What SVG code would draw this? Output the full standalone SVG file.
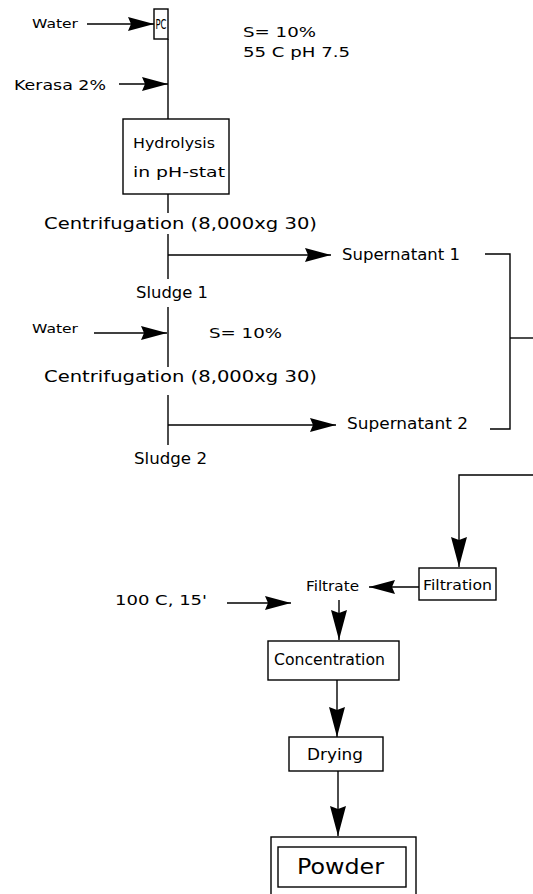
<svg xmlns="http://www.w3.org/2000/svg" width="533" height="894" viewBox="0 0 533 894">
<defs>
<style>
text{font-family:"DejaVu Sans","Liberation Sans",sans-serif;fill:#000;}
.s12{font-size:12px;}
.s14{font-size:14px;}
.s15{font-size:15px;}
.s22{font-size:22px;}
.box{fill:#fff;stroke:#000;stroke-width:1.4;}
.ln{fill:none;stroke:#000;stroke-width:1.4;}
</style>
<marker id="ah" markerUnits="userSpaceOnUse" markerWidth="26" markerHeight="14" refX="26" refY="7" orient="auto">
<path d="M0,0 L26,7 L0,14 L3,7 z" fill="#000"/>
</marker>
<marker id="ahl" markerUnits="userSpaceOnUse" markerWidth="30" markerHeight="16" refX="30" refY="8" orient="auto">
<path d="M0,0 L30,8 L0,16 L3,8 z" fill="#000"/>
</marker>
</defs>
<rect width="533" height="894" fill="#fff"/>
<g id="connectors">
<line class="ln" x1="87" y1="24" x2="154" y2="24" marker-end="url(#ah)"/>
<line class="ln" x1="119" y1="84" x2="168" y2="84" marker-end="url(#ah)"/>
<line class="ln" x1="168" y1="39" x2="168" y2="119"/>
<line class="ln" x1="168" y1="194" x2="168" y2="213"/>
<line class="ln" x1="168" y1="234" x2="168" y2="279"/>
<line class="ln" x1="168" y1="255" x2="331" y2="255" marker-end="url(#ah)"/>
<line class="ln" x1="168" y1="307" x2="168" y2="367"/>
<line class="ln" x1="94" y1="333" x2="167" y2="333" marker-end="url(#ah)"/>
<line class="ln" x1="168" y1="395" x2="168" y2="445"/>
<line class="ln" x1="168" y1="425" x2="336" y2="425" marker-end="url(#ah)"/>
<polyline class="ln" points="485,254 510,254 510,429 490,429"/>
<line class="ln" x1="510" y1="338" x2="533" y2="338"/>
<polyline class="ln" points="533,475 459,475 459,567" marker-end="url(#ahl)"/>
<line class="ln" x1="419" y1="587" x2="369" y2="587" marker-end="url(#ah)"/>
<line class="ln" x1="227" y1="603" x2="291" y2="603" marker-end="url(#ah)"/>
<line class="ln" x1="339" y1="600" x2="339" y2="640" marker-end="url(#ahl)"/>
<line class="ln" x1="337" y1="680" x2="337" y2="737" marker-end="url(#ahl)"/>
<line class="ln" x1="338" y1="771" x2="338" y2="836" marker-end="url(#ahl)"/>
</g>
<g id="water1"><text class="s12" x="32" y="28" textLength="46" lengthAdjust="spacingAndGlyphs">Water</text></g>
<g id="pc"><rect class="box" x="154" y="9" width="14" height="30"/><text class="s14" x="155.5" y="29" textLength="11" lengthAdjust="spacingAndGlyphs">PC</text></g>
<g id="cond1">
<text class="s14" x="243" y="37" textLength="73" lengthAdjust="spacingAndGlyphs">S= 10%</text>
<text class="s14" x="243" y="57" textLength="107" lengthAdjust="spacingAndGlyphs">55 C pH 7.5</text>
</g>
<g id="kerasa"><text class="s14" x="14" y="90" textLength="92" lengthAdjust="spacingAndGlyphs">Kerasa 2%</text></g>
<g id="hydrolysis"><rect class="box" x="123" y="119" width="106" height="75"/>
<text class="s14" x="133" y="148" textLength="82" lengthAdjust="spacingAndGlyphs">Hydrolysis</text>
<text class="s14" x="133" y="177" textLength="92" lengthAdjust="spacingAndGlyphs">in pH-stat</text></g>
<g id="centrifugation1"><text class="s15" x="44" y="229" textLength="273" lengthAdjust="spacingAndGlyphs">Centrifugation (8,000xg 30)</text></g>
<g id="supernatant1"><text class="s15" x="342" y="260" textLength="118" lengthAdjust="spacingAndGlyphs">Supernatant 1</text></g>
<g id="sludge1"><text class="s15" x="136" y="298" textLength="72" lengthAdjust="spacingAndGlyphs">Sludge 1</text></g>
<g id="water2"><text class="s12" x="32" y="333" textLength="46" lengthAdjust="spacingAndGlyphs">Water</text></g>
<g id="cond2"><text class="s14" x="209" y="338" textLength="73" lengthAdjust="spacingAndGlyphs">S= 10%</text></g>
<g id="centrifugation2"><text class="s15" x="44" y="382" textLength="273" lengthAdjust="spacingAndGlyphs">Centrifugation (8,000xg 30)</text></g>
<g id="supernatant2"><text class="s15" x="347" y="429" textLength="121" lengthAdjust="spacingAndGlyphs">Supernatant 2</text></g>
<g id="sludge2"><text class="s15" x="134" y="464" textLength="73" lengthAdjust="spacingAndGlyphs">Sludge 2</text></g>
<g id="filtration"><rect class="box" x="419" y="568" width="77" height="32"/>
<text class="s14" x="423" y="590" textLength="69" lengthAdjust="spacingAndGlyphs">Filtration</text></g>
<g id="filtrate"><text class="s14" x="306" y="591" textLength="53" lengthAdjust="spacingAndGlyphs">Filtrate</text></g>
<g id="heat"><text class="s14" x="115" y="605" textLength="92" lengthAdjust="spacingAndGlyphs">100 C, 15'</text></g>
<g id="concentration"><rect class="box" x="268" y="641" width="131" height="39"/>
<text class="s15" x="274" y="665" textLength="111" lengthAdjust="spacingAndGlyphs">Concentration</text></g>
<g id="drying"><rect class="box" x="289" y="737" width="94" height="34"/>
<text class="s15" x="307" y="760" textLength="56" lengthAdjust="spacingAndGlyphs">Drying</text></g>
<g id="powder"><rect class="box" x="271" y="837" width="145" height="70"/>
<rect class="box" x="278" y="847" width="128" height="40"/>
<text class="s22" x="297" y="874" textLength="87" lengthAdjust="spacingAndGlyphs">Powder</text></g>
</svg>
